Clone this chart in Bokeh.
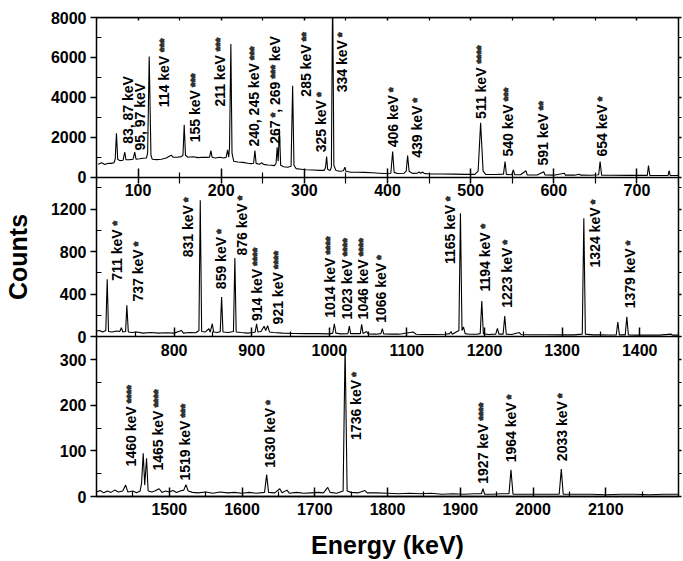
import re
import math
from bokeh.plotting import figure
from bokeh.models import Range1d, LinearAxis, FixedTicker, ColumnDataSource, CustomJSTickFormatter
from bokeh.core.properties import value
from bokeh.embed import file_html
from bokeh.resources import INLINE

# ---------------- data ----------------
# Panel 1: 50-750 keV
p1_energy = [52, 56, 60, 64, 68, 71, 72.5, 74, 75.5, 78, 82, 84, 85.5, 90, 94, 96, 97.5, 102, 106, 110,
             111.5, 113.4, 115.5, 117, 122, 128, 134, 138, 140, 142, 147, 152, 154, 155.5, 157, 160, 166,
             172, 178, 183, 186, 187.6, 189, 193, 198, 203, 206, 207.6, 209, 210, 211.6, 213, 215, 220,
             226, 232, 236, 239, 240.5, 242, 246, 249, 251, 256, 260, 264, 266, 267.3, 268.5, 270, 271.5,
             275, 280, 284, 285.9, 287.5, 290, 296, 302, 310, 318, 324, 325.5, 326.8, 328, 331, 332.5, 334,
             335.5, 338, 343, 347, 348.8, 350, 356, 364, 372, 382, 390, 396, 404, 406.2, 408, 412, 420,
             422.5, 424.2, 426, 430, 436, 438, 440, 442, 444, 450, 465, 480, 495, 505, 509, 512, 515, 518,
             530, 539.5, 541.4, 543, 549.5, 551.4, 553, 560, 566.6, 568, 580, 587.9, 589.5, 600, 612.8, 614,
             625, 630.4, 632, 645, 654, 655.7, 657.5, 670, 690, 712.5, 713.9, 715.5, 725, 737.5, 738.7, 740,
             750]
p1_counts = [650, 720, 640, 700, 690, 720, 900, 2200, 900, 830, 850, 1250, 870, 880, 900, 1250, 900, 920,
             950, 960, 1200, 6040, 1100, 900, 880, 900, 960, 1060, 1100, 1000, 1000, 1030, 1100, 2620,
             1100, 1000, 1020, 980, 1000, 990, 1000, 1330, 1000, 960, 1000, 960, 1000, 1370, 1000, 1500,
             6670, 1200, 800, 760, 740, 700, 680, 700, 1330, 690, 650, 720, 640, 610, 600, 580, 700, 1500,
             800, 2420, 600, 520, 500, 550, 4580, 600, 430, 400, 370, 360, 340, 340, 500, 1035, 400, 330,
             500, 9500, 600, 330, 300, 320, 500, 300, 250, 250, 240, 220, 200, 180, 200, 1285, 240, 180,
             200, 300, 1085, 300, 190, 200, 260, 190, 260, 190, 160, 160, 150, 140, 140, 300, 2720, 300,
             140, 130, 150, 785, 140, 120, 370, 120, 120, 320, 110, 110, 270, 110, 100, 200, 100, 100, 150,
             100, 95, 120, 785, 100, 95, 90, 90, 585, 90, 85, 85, 330, 85, 80]

# Panel 2: 700-1450 keV
p2_energy = [700, 704, 708, 712, 713.8, 715.5, 720, 726, 730, 732, 734, 737.5, 739.1, 741, 746, 752, 760,
             770, 780, 790, 800, 809.6, 812, 820, 828, 832, 833.7, 835.5, 840, 844.8, 846.5, 849.2, 851,
             856, 859.5, 861.2, 863, 870, 876.5, 878.3, 880, 886, 895, 902, 904.5, 906.3, 908, 912, 916,
             918, 920.5, 923, 928, 940, 955, 970, 985, 1000, 1004.5, 1006.5, 1008.5, 1015, 1024, 1025.8,
             1027.5, 1035, 1040, 1041.7, 1043.5, 1048, 1050, 1060, 1066.5, 1068.4, 1070, 1080, 1090, 1108,
             1112, 1120, 1135, 1150, 1155, 1156.9, 1158.5, 1167, 1169, 1171, 1173, 1175, 1180, 1190,
             1194.5, 1196.5, 1198.5, 1205, 1214.5, 1216.7, 1218.5, 1224, 1226.1, 1228, 1235, 1245, 1247,
             1260, 1280, 1300, 1315, 1326, 1328, 1330, 1340, 1350, 1360, 1369.8, 1371.8, 1373.8, 1381.4,
             1383.4, 1385.4, 1395, 1410, 1425, 1440.5, 1442, 1450]
p2_counts = [55, 60, 45, 60, 542, 50, 45, 55, 50, 85, 45, 50, 297, 45, 40, 45, 35, 40, 35, 38, 35, 60, 35,
             40, 38, 60, 1282, 50, 45, 76, 45, 123, 45, 40, 50, 375, 45, 40, 50, 741, 45, 40, 35, 40, 45,
             123, 45, 50, 100, 60, 104, 45, 40, 35, 32, 30, 30, 28, 35, 123, 35, 28, 30, 101, 30, 30, 30,
             117, 30, 50, 28, 25, 30, 76, 28, 25, 25, 45, 24, 22, 22, 24, 30, 50, 25, 60, 1162, 60, 92, 30,
             24, 24, 30, 337, 30, 22, 25, 79, 25, 25, 196, 25, 22, 40, 22, 20, 20, 18, 18, 25, 1115, 25,
             18, 18, 17, 18, 139, 18, 18, 189, 18, 16, 16, 16, 25, 16, 16]

# Panel 3: 1400-2200 keV
p3_energy = [1400, 1405, 1410, 1415, 1420, 1425, 1430, 1436, 1440, 1443, 1450, 1455, 1460, 1462, 1464.2,
             1466.3, 1468.8, 1471, 1476, 1480, 1486, 1490, 1495, 1500, 1505, 1510, 1515, 1520, 1522.9,
             1526, 1532, 1540, 1550, 1560, 1570, 1580, 1590, 1600, 1610, 1620, 1631, 1633.9, 1636.5, 1645,
             1652, 1655, 1662, 1665, 1675, 1685, 1695, 1705, 1712, 1717.9, 1721, 1730, 1739, 1741.7,
             1744.5, 1750, 1760, 1769, 1772, 1785, 1800, 1815, 1830, 1845, 1860, 1875, 1890, 1905, 1920,
             1929, 1931.2, 1933.5, 1945, 1955, 1967, 1969.7, 1972.5, 1985, 2000, 2020, 2036, 2038.9,
             2041.5, 2060, 2080, 2100, 2120, 2140, 2160, 2180, 2200]
p3_counts = [10, 13, 8, 12, 9, 14, 10, 12, 25, 10, 12, 8, 12, 30, 95, 25, 84, 12, 10, 12, 17, 9, 12, 10,
             13, 9, 12, 14, 26, 12, 9, 8, 10, 7, 10, 8, 9, 7, 9, 7, 9, 48, 9, 8, 17, 8, 14, 7, 9, 7, 8, 9,
             8, 20, 9, 7, 12, 330, 12, 9, 8, 13, 8, 8, 7, 6, 7, 6, 7, 5, 6, 5, 6, 6, 17, 5, 5, 6, 6, 58.5,
             5, 5, 5, 5, 5, 60, 5, 5, 5, 4, 5, 5, 4, 5, 5]

# Axis extents and tick values
p1_xlim = [50, 750]
p2_xlim = [700, 1450]
p3_xlim = [1400, 2200]
p1_ymax = 8000
p2_ymax = 1500
p3_ymax = 350
p1_xticks = [100, 200, 300, 400, 500, 600, 700]
p1_xminor = [50, 150, 250, 350, 450, 550, 650, 750]
p2_xticks = [800, 900, 1000, 1100, 1200, 1300, 1400]
p2_xminor = [750, 850, 950, 1050, 1150, 1250, 1350, 1450]
p3_xticks = [1500, 1600, 1700, 1800, 1900, 2000, 2100]
p3_xminor = [1450, 1550, 1650, 1750, 1850, 1950, 2050, 2150]
p1_yticks = [0, 2000, 4000, 6000, 8000]
p1_yminor = [1000, 3000, 5000, 7000]
p2_yticks = [0, 400, 800, 1200]
p2_yminor = [200, 600, 1000, 1400]
p3_yticks = [0, 100, 200, 300]
p3_yminor = [50, 150, 250, 350]

# Peak annotations (text, anchor energy, anchor counts)
p1_labels = ["83, 87 keV", "95, 97 keV", "114 keV ***", "155 keV ***", "211 keV ***", "240, 245 keV ***",
             "267 *, 269 *** keV", "285 keV **", "325 keV *", "334 keV *", "406 keV *", "439 keV *",
             "511 keV ****", "540 keV ***", "591 keV **", "654 keV *"]
p1_label_x = [88, 102, 131, 169, 199, 240, 265, 301.5, 320, 345.7, 407, 436, 513, 545, 587, 658]
p1_label_y = [1670, 1335, 3500, 1750, 3535, 1535, 1670, 4035, 1250, 4250, 1500, 970, 2920, 1035, 585, 1035]

p2_labels = ["711 keV *", "737 keV *", "831 keV *", "859 keV *", "876 keV *", "914 keV ****",
             "921 keV ****", "1014 keV ****", "1023 keV ****", "1046 keV ****", "1066 keV *",
             "1165 keV *", "1194 keV *", "1223 keV *", "1324 keV *", "1379 keV *"]
p2_label_x = [727, 754, 818, 861, 888, 906.6, 934, 1001, 1023.4, 1044, 1066, 1156, 1200, 1229, 1342, 1388]
p2_label_y = [526, 331, 747, 448, 763, 148, 117, 180, 164, 164, 132, 684, 425, 274, 652, 268]

p3_labels = ["1460 keV ****", "1465 keV ****", "1519 keV ***", "1630 keV *", "1736 keV *",
             "1927 keV ****", "1964 keV *", "2033 keV *"]
p3_label_x = [1447, 1485, 1521, 1638, 1757, 1931, 1970, 2040]
p3_label_y = [66, 57, 35, 63, 124, 28, 75, 77.5]

# ---------------- figure ----------------
FONT = "Liberation Sans"
LBL_FS = 14.0
STAR_FS = 11.5

# the three panels are stacked in one frame: default y range 0..3,
# bottom panel occupies 0..1, middle 1..2, top 2..3
ymaxes = [p1_ymax, p2_ymax, p3_ymax]
bases = [2, 1, 0]

p = figure(frame_width=582, frame_height=479, x_range=Range1d(0, 1), y_range=Range1d(0, 3),
           x_axis_location=None, y_axis_location=None, toolbar_location=None, output_backend="svg",
           min_border_left=95, min_border_top=17, min_border_right=6, min_border_bottom=64)
p.extra_x_ranges = {"x1": Range1d(*p1_xlim), "x2": Range1d(*p2_xlim), "x3": Range1d(*p3_xlim)}
p.extra_y_ranges = {
    "y%d" % (i + 1): Range1d(-b * m, (3 - b) * m) for i, (b, m) in enumerate(zip(bases, ymaxes))
}
p.grid.visible = False
p.outline_line_color = "black"
p.outline_line_width = 1.5
p.background_fill_color = "white"
p.border_fill_color = "white"

empty_fmt = CustomJSTickFormatter(code="return '';")


def style_axis(ax):
    ax.axis_line_color = "black"
    ax.axis_line_width = 1.5
    ax.major_tick_line_color = "black"
    ax.major_tick_line_width = 1.5
    ax.minor_tick_line_color = "black"
    ax.minor_tick_line_width = 1.2
    ax.major_label_text_font = FONT
    ax.major_label_text_font_style = "bold"
    ax.major_label_text_font_size = "16px"
    ax.major_label_text_color = "black"
    ax.axis_label_text_font = FONT
    ax.axis_label_text_font_style = "bold"
    ax.axis_label_text_font_size = "25px"
    ax.axis_label_text_color = "black"


panels = [
    ("x1", "y1", p1_energy, p1_counts, p1_xticks, p1_xminor, p1_labels, p1_label_x, p1_label_y),
    ("x2", "y2", p2_energy, p2_counts, p2_xticks, p2_xminor, p2_labels, p2_label_x, p2_label_y),
    ("x3", "y3", p3_energy, p3_counts, p3_xticks, p3_xminor, p3_labels, p3_label_x, p3_label_y),
]

BOLD_W = {' ': 0.278, ',': 0.278, 'k': 0.556, 'e': 0.556, 'V': 0.667, '*': 0.389}
REG_W = {' ': 0.278, ',': 0.278, '*': 0.389}


def text_width(s, table, fs):
    return sum(table.get(ch, 0.556) for ch in s) * fs


for idx, (xr, yr, ex, cy, xt, xm, labs, lx, ly) in enumerate(panels):
    # spectrum
    p.line(ex, cy, x_range_name=xr, y_range_name=yr, line_color="black", line_width=1.1)

    # annotations: split into bold parts and star parts
    bold = dict(x=[], y=[], text=[], off=[])
    star = dict(x=[], y=[], text=[], off=[])
    for t, xx, yy in zip(labs, lx, ly):
        off = 0.0
        for part in re.split(r"(\s*\*+)", t):
            if part == "":
                continue
            is_star = "*" in part
            table = REG_W if is_star else BOLD_W
            fs = STAR_FS if is_star else LBL_FS
            lead = len(part) - len(part.lstrip(" "))
            off += text_width(part[:lead], table, fs)
            core = part.strip(" ")
            tgt = star if is_star else bold
            tgt["x"].append(xx)
            tgt["y"].append(yy)
            tgt["text"].append(core)
            tgt["off"].append(-off)
            off += text_width(core, table, fs)
            trail = len(part) - len(part.rstrip(" "))
            off += text_width(" " * trail, table, fs)
    p.text(x="x", y="y", text="text", y_offset="off", source=ColumnDataSource(bold),
           x_range_name=xr, y_range_name=yr, angle=math.pi / 2, text_align="left",
           text_baseline="middle", text_font=value(FONT), text_font_style="bold",
           text_font_size=f"{LBL_FS}px", text_color="black")
    if star["x"]:
        p.text(x="x", y="y", text="text", y_offset="off", source=ColumnDataSource(star),
               x_range_name=xr, y_range_name=yr, angle=math.pi / 2, text_align="left",
               text_baseline="middle", text_font=value(FONT), text_font_style="normal",
               text_font_size=f"{STAR_FS}px", text_color="black",
               text_outline_color="#333333")

    # bottom axis of each panel
    if idx < 2:
        ba = LinearAxis(x_range_name=xr, fixed_location=bases[idx],
                        ticker=FixedTicker(ticks=xt, minor_ticks=xm))
    else:
        ba = LinearAxis(x_range_name=xr, ticker=FixedTicker(ticks=xt, minor_ticks=xm))
    style_axis(ba)
    ba.major_tick_in = 9
    ba.minor_tick_in = 5
    if idx == 0:
        ba.major_tick_out = 6
        ba.minor_tick_out = 6
        ba.major_label_standoff = 1
    else:
        ba.major_tick_out = 0
        ba.minor_tick_out = 0
        ba.major_label_standoff = 7 if idx == 1 else 6
    if idx == 2:
        ba.axis_label = "Energy (keV)"
        ba.axis_label_standoff = 13
    p.add_layout(ba, "below")

# shared left / right axes carrying the count ticks of all three panels
ytick_major = []
ytick_minor = []
for (b, m, maj, mnr) in zip(bases, ymaxes, [p1_yticks, p2_yticks, p3_yticks],
                            [p1_yminor, p2_yminor, p3_yminor]):
    ytick_major += [b + t / m for t in maj]
    ytick_minor += [b + t / m for t in mnr]

count_fmt = CustomJSTickFormatter(args=dict(bases=bases, ymax=ymaxes), code="""
    for (let i = 0; i < bases.length; i++) {
        if (tick >= bases[i] - 1e-9) {
            return String(Math.round((tick - bases[i]) * ymax[i]));
        }
    }
    return '';
""")

la = LinearAxis(ticker=FixedTicker(ticks=ytick_major, minor_ticks=ytick_minor), formatter=count_fmt)
style_axis(la)
la.axis_line_color = None
la.major_tick_out = 6
la.major_tick_in = 0
la.minor_tick_out = 0
la.minor_tick_in = 5
la.major_label_standoff = 4
la.axis_label = "Counts"
la.axis_label_standoff = 16
p.add_layout(la, "left")

ra = LinearAxis(ticker=FixedTicker(ticks=ytick_major, minor_ticks=ytick_minor), formatter=empty_fmt)
style_axis(ra)
ra.axis_line_color = None
ra.major_tick_out = 3
ra.major_tick_in = 0
ra.minor_tick_out = 3
ra.minor_tick_in = 0
ra.major_label_standoff = 0
p.add_layout(ra, "right")

# top axis of the upper panel (ticks only)
ta = LinearAxis(x_range_name="x1", fixed_location=3,
                ticker=FixedTicker(ticks=p1_xticks, minor_ticks=p1_xminor), formatter=empty_fmt)
style_axis(ta)
ta.major_tick_out = 0
ta.major_tick_in = 3
ta.minor_tick_out = 0
ta.minor_tick_in = 3
p.add_layout(ta, "above")

open("out.html", "w").write(file_html(p, INLINE))
